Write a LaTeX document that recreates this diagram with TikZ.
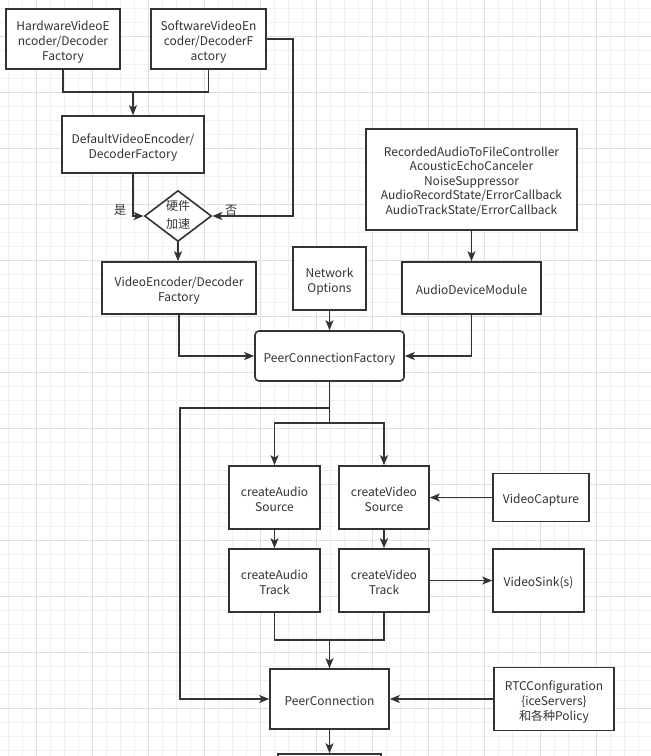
\documentclass[tikz,border=0pt]{standalone}
\usepackage{fontspec}
\setmainfont{Noto Sans CJK SC}
\usetikzlibrary{arrows.meta,shapes.geometric,calc}
\definecolor{ink}{HTML}{333333}
\definecolor{gridminor}{HTML}{F0F0F0}
\definecolor{gridmajor}{HTML}{DFDFDF}
\newcommand\mytxt[2][-3pt]{\raisebox{#1}[\height][\depth]{\begin{tabular}{@{}c@{}}#2\end{tabular}}}
\tikzset{
  box/.style={draw=ink, line width=1.6pt, fill=white, inner sep=0pt, text=ink,
    font=\fontsize{12}{15}\selectfont},
  rbox/.style={box, rounded corners=4pt},
  dia/.style={draw=ink, line width=1.6pt, fill=white, shape=diamond, inner sep=0pt,
    minimum width=67pt, minimum height=51pt, shape aspect=1.3},
  conn/.style={draw=ink, line width=1.6pt},
  arr/.style={conn, -{Stealth[length=10pt,width=8pt,inset=2.5pt]}},
  lbl/.style={text=ink, font=\fontsize{12}{14}\selectfont, inner sep=0pt},
}
\begin{document}
\begin{tikzpicture}[x=1pt,y=-1pt]
\useasboundingbox (0,0) rectangle (651,756);
\clip (0,0) rectangle (651,756);
\fill[white] (0,0) rectangle (651,756);
% grid
\foreach \v in {8,22,...,650} {
  \draw[gridminor, line width=1pt] (\v,0) -- (\v,756);
}
\foreach \v in {8,22,...,755} {
  \draw[gridminor, line width=1pt] (0,\v) -- (651,\v);
}
\foreach \v in {36,92,...,650} {
  \draw[gridmajor, line width=1pt] (\v,0) -- (\v,756);
}
\foreach \v in {36,92,...,755} {
  \draw[gridmajor, line width=1pt] (0,\v) -- (651,\v);
}
% nodes
\node[box, minimum width=114pt, minimum height=60pt] (hw) at (63,39) {\mytxt{HardwareVideoE\\ncoder/Decoder\\Factory}};
\node[box, minimum width=115pt, minimum height=60pt] (sw) at (208.5,39) {\mytxt{SoftwareVideoEn\\coder/DecoderF\\actory}};
\node[box, minimum width=142pt, minimum height=57pt] (def) at (133,144.5) {\mytxt{DefaultVideoEncoder/\\DecoderFactory}};
\node[dia] (hwacc) at (178,216) {};
\node[lbl, font=\fontsize{12}{18}\selectfont] (hwacct) at (hwacc.center) {\mytxt[0pt]{硬件\\加速}};
\node[box, minimum width=154pt, minimum height=52pt] (vef) at (179,288) {\mytxt{VideoEncoder/Decoder\\Factory}};
\node[box, minimum width=73pt, minimum height=63pt] (net) at (329.5,278.5) {\mytxt{Network\\Options}};
\node[rbox, minimum width=149pt, minimum height=50pt] (pcf) at (329.5,356) {\mytxt{PeerConnectionFactory}};
\node[box, minimum width=211pt, minimum height=101pt, font=\fontsize{12}{14.4}\selectfont] (rec) at (471.5,179.5) {\mytxt{RecordedAudioToFileController\\AcousticEchoCanceler\\NoiseSuppressor\\AudioRecordState/ErrorCallback\\AudioTrackState/ErrorCallback}};
\node[box, minimum width=139pt, minimum height=52pt] (adm) at (471.5,288) {\mytxt{AudioDeviceModule}};
\node[box, minimum width=91pt, minimum height=63pt] (cas) at (274.5,497.5) {\mytxt{createAudio\\Source}};
\node[box, minimum width=90pt, minimum height=63pt] (cvs) at (384,497.5) {\mytxt{createVideo\\Source}};
\node[box, minimum width=91pt, minimum height=63pt] (cat) at (274.5,580.5) {\mytxt{createAudio\\Track}};
\node[box, minimum width=90pt, minimum height=63pt] (cvt) at (384,580.5) {\mytxt{createVideo\\Track}};
\node[box, minimum width=96pt, minimum height=48pt] (vcap) at (541,497.5) {\mytxt{VideoCapture}};
\node[box, minimum width=91pt, minimum height=63pt] (vsink) at (538.5,580.5) {\mytxt{VideoSink(s)}};
\node[box, minimum width=119pt, minimum height=60pt] (pc) at (329.5,699) {\mytxt{PeerConnection}};
\node[box, minimum width=120pt, minimum height=63pt] (rtc) at (554,699) {\mytxt{RTCConfiguration\\\{iceServers\}\\和各种Policy}};
\node[box, minimum width=103pt, minimum height=52pt] (next) at (329.5,780) {};
% labels
\node[lbl] (yes) at (120,210.5) {是};
\node[lbl] (no) at (231,210.5) {否};
% coordinates
\coordinate (j1) at (133,92);
\coordinate (c1) at (293,39);
\coordinate (lft) at (180,408);
\coordinate (b1) at (329.5,408);
\coordinate (b2) at (329.5,423);
\coordinate (m) at (329.5,640);
% connectors
\draw[conn] (hw.south) |- (j1) -| (sw.south);
\draw[arr] (j1) -- (def.north);
\draw[arr] (def.south) |- (hwacc.west);
\draw[arr] (sw.east) -- (c1) |- (hwacc.east);
\draw[arr] (hwacc.south) -- (hwacc.south |- vef.north);
\draw[arr] (vef.south) |- (pcf.west);
\draw[arr] (net.south) -- (pcf.north);
\draw[arr] (rec.south) -- (adm.north);
\draw[arr] (adm.south) |- (pcf.east);
\draw[arr] (pcf.south) |- (lft) |- (pc.west);
\draw[conn] (b1) -- (b2);
\draw[arr] (b2) -| (cas.north);
\draw[arr] (b2) -| (cvs.north);
\draw[arr] (cas.south) -- (cat.north);
\draw[arr] (cvs.south) -- (cvt.north);
\draw[arr] (vcap.west) -- (vcap.west -| cvs.east);
\draw[arr] (cvt.east) -- (cvt.east -| vsink.west);
\draw[conn] (cat.south) |- (m) -| (cvt.south);
\draw[arr] (m) -- (pc.north);
\draw[arr] (rtc.west) -- (rtc.west -| pc.east);
\draw[arr] (pc.south) -- (next.north);
\end{tikzpicture}
\end{document}
